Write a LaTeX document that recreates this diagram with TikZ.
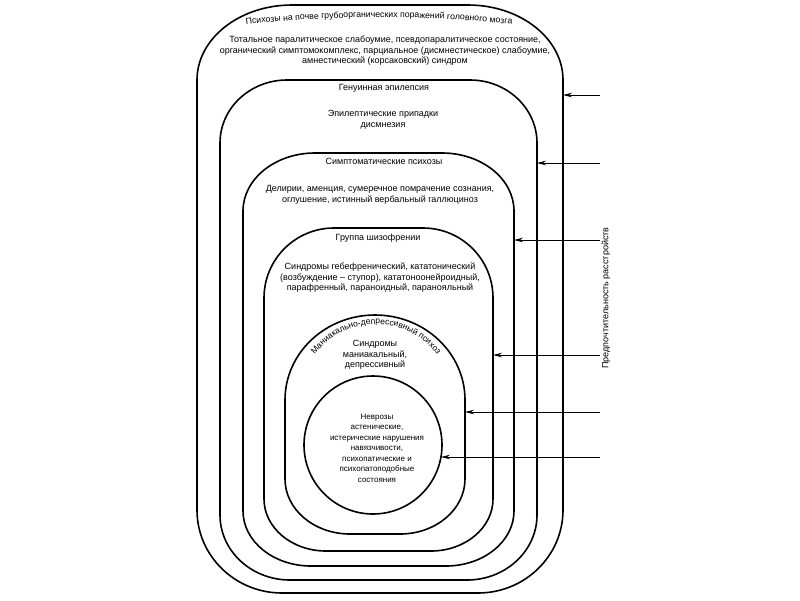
\documentclass[tikz,border=0pt]{standalone}
\usepackage{fontspec}
\setmainfont{Liberation Sans}
\usetikzlibrary{arrows.meta,decorations.text}

\tikzset{
  shell/.style={line width=1.6pt},
  lbl/.style={font=\fontsize{9}{10.5}\selectfont, align=center, inner sep=0pt},
  feed/.style={line width=0.8pt, -{Stealth[length=9pt,width=4.5pt]}}
}

\begin{document}
\begin{tikzpicture}[x=1pt,y=1pt]
  \useasboundingbox (0,0) rectangle (800,-600);

  % Psychoses on an organic base (outer shell)
  \draw[shell] (197,-510) -- (197,-80) arc[start angle=180,end angle=90,x radius=95,y radius=75]
    -- (468,-5) arc[start angle=90,end angle=0,x radius=95,y radius=75]
    -- (563,-510) arc[start angle=0,end angle=-90,x radius=85,y radius=83]
    -- (282,-593) arc[start angle=270,end angle=180,x radius=85,y radius=83] -- cycle;

  % Genuine epilepsy
  \draw[shell] (220,-515) -- (220,-143) arc[start angle=180,end angle=90,x radius=67,y radius=63]
    -- (470,-80) arc[start angle=90,end angle=0,x radius=67,y radius=63]
    -- (537,-515) arc[start angle=0,end angle=-90,x radius=70,y radius=65]
    -- (290,-580) arc[start angle=270,end angle=180,x radius=70,y radius=65] -- cycle;

  % Symptomatic psychoses
  \draw[shell] (243,-511) -- (243,-211) arc[start angle=180,end angle=90,x radius=72,y radius=58]
    -- (442,-153) arc[start angle=90,end angle=0,x radius=72,y radius=58]
    -- (514,-511) arc[start angle=0,end angle=-90,x radius=68,y radius=55]
    -- (311,-566) arc[start angle=270,end angle=180,x radius=68,y radius=55] -- cycle;

  % Schizophrenia
  \draw[shell] (264,-499) -- (264,-298) arc[start angle=180,end angle=90,x radius=70,y radius=70]
    -- (423,-228) arc[start angle=90,end angle=0,x radius=70,y radius=70]
    -- (493,-499) arc[start angle=0,end angle=-90,x radius=62,y radius=52]
    -- (326,-551) arc[start angle=270,end angle=180,x radius=62,y radius=52] -- cycle;

  % Manic-depressive psychosis
  \draw[shell] (285,-479) -- (285,-400) arc[start angle=180,end angle=0,x radius=90,y radius=85]
    -- (465,-479) arc[start angle=0,end angle=-90,x radius=65,y radius=55]
    -- (350,-534) arc[start angle=270,end angle=180,x radius=65,y radius=55] -- cycle;

  % Neuroses
  \draw[shell] (373,-445) circle (69);

  % Labels
  \path[decorate,decoration={text along path,text align=center,
    text={|\fontsize{8.7}{10}\selectfont|Психозы на почве грубоорганических поражений головного мозга}}]
    (241,-25) .. controls (330,-15) and (430,-15) .. (517,-25);
  \node[lbl] (organic) at (385,-51) {Тотальное паралитическое слабоумие, псевдопаралитическое состояние,\\
    органический симптомокомплекс, парциальное (дисмнестическое) слабоумие,\\
    амнестический (корсаковский) синдром};
  \node[lbl] (epi-title) at (384,-88) {Генуинная эпилепсия};
  \node[lbl] (epi) at (383,-120) {Эпилептические припадки\\ дисмнезия};
  \node[lbl] (sympt-title) at (384,-161) {Симптоматические психозы};
  \node[lbl] (sympt) at (380,-195) {Делирии, аменция, сумеречное помрачение сознания,\\
    оглушение, истинный вербальный галлюциноз};
  \node[lbl] (schizo-title) at (378,-238) {Группа шизофрении};
  \node[lbl] (schizo) at (380,-278) {Синдромы гебефренический, кататонический\\
    (возбуждение – ступор), кататоноонейроидный,\\
    парафренный, параноидный, паранояльный};
  \path[decorate,decoration={text along path,text align=center,
    text={|\fontsize{8.5}{10}\selectfont|Маниакально-депрессивный психоз}}]
    (376,-400) ++(150:76) arc[start angle=150,end angle=30,radius=76];
  \node[lbl] (mdp) at (375,-355) {Синдромы\\ маниакальный,\\ депрессивный};
  \node[lbl,font=\fontsize{8}{10.5}\selectfont] (neur) at (377,-448) {Неврозы\\ астенические,\\ истерические нарушения\\ навязчивости,\\
    психопатические и\\ психопатоподобные\\ состояния};
  \node[lbl,rotate=90] (severity) at (606,-298) {Предпочтительность расстройств};

  % Arrows
  \coordinate (t1) at (600,-95);  \coordinate (h1) at (563,-95);
  \coordinate (t2) at (600,-163); \coordinate (h2) at (537,-163);
  \coordinate (t3) at (600,-240); \coordinate (h3) at (514,-240);
  \coordinate (t4) at (600,-355); \coordinate (h4) at (493,-355);
  \coordinate (t5) at (600,-412); \coordinate (h5) at (465,-412);
  \coordinate (t6) at (600,-457); \coordinate (h6) at (441,-457);
  \draw[feed] (t1) -- (h1);
  \draw[feed] (t2) -- (h2);
  \draw[feed] (t3) -- (h3);
  \draw[feed] (t4) -- (h4);
  \draw[feed] (t5) -- (h5);
  \draw[feed] (t6) -- (h6);
\end{tikzpicture}
\end{document}
